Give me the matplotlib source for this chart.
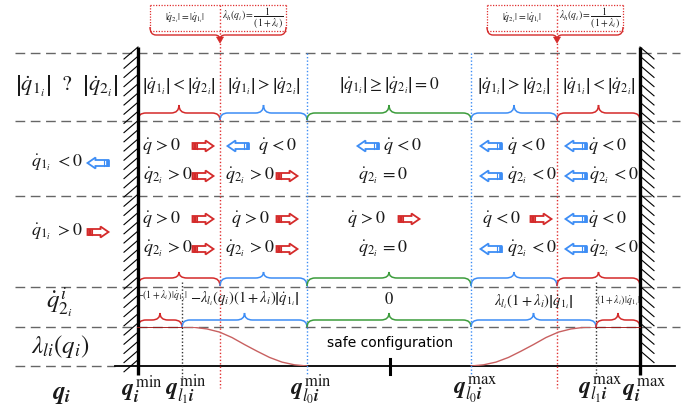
import matplotlib
matplotlib.use("Agg")
import matplotlib.pyplot as plt
from matplotlib.path import Path
from matplotlib.patches import PathPatch, Polygon, Rectangle

plt.rcParams['mathtext.fontset'] = 'stix'
plt.rcParams['font.family'] = ['Liberation Serif', 'DejaVu Serif']

W, H = 693, 408

# ---------------- data ----------------
q_marks = [138, 182, 307, 471, 596, 640]
q_labels = [r'$\boldsymbol{q}_{\boldsymbol{i}}^{\,\mathrm{min}}$',
            r'$\boldsymbol{q}_{\boldsymbol{l_1 i}}^{\,\mathrm{min}}$',
            r'$\boldsymbol{q}_{\boldsymbol{l_0 i}}^{\,\mathrm{min}}$',
            r'$\boldsymbol{q}_{\boldsymbol{l_0 i}}^{\,\mathrm{max}}$',
            r'$\boldsymbol{q}_{\boldsymbol{l_1 i}}^{\,\mathrm{max}}$',
            r'$\boldsymbol{q}_{\boldsymbol{i}}^{\,\mathrm{max}}$']
q_safe = 390
q_switch = [220, 557]
row_bounds = [53, 121, 196, 287, 327, 366]

row_labels = [r'$\left|\dot{q}_{1_i}\right|\ \ ?\ \ \left|\dot{q}_{2_i}\right|$',
              r'$\dot{q}_{1_i}\ <0$',
              r'$\dot{q}_{1_i}\ >0$',
              r'$\dot{q}_{2_i}^{\,i}$',
              r'$\lambda_{li}(q_i)$',
              r'$\boldsymbol{q}_{\boldsymbol{i}}$']

region_edges = [138, 220, 307, 471, 557, 640]
region_colors = ['#d42a2a', '#3d8df5', '#3c9c3c', '#3d8df5', '#d42a2a']
cond_texts = [r'$\left|\dot{q}_{1_i}\right|<\left|\dot{q}_{2_i}\right|$',
              r'$\left|\dot{q}_{1_i}\right|>\left|\dot{q}_{2_i}\right|$',
              r'$\left|\dot{q}_{1_i}\right|\geq\left|\dot{q}_{2_i}\right|=0$',
              r'$\left|\dot{q}_{1_i}\right|>\left|\dot{q}_{2_i}\right|$',
              r'$\left|\dot{q}_{1_i}\right|<\left|\dot{q}_{2_i}\right|$']

# motion table: (text, text_x, arrow_dir, arrow_x); arrow_dir +1 right, -1 left, 0 none
QP, QN = r'$\dot{q}\,>0$', r'$\dot{q}\,<0$'
Q2P, Q2N, Q2Z = r'$\dot{q}_{2_i}\,>0$', r'$\dot{q}_{2_i}\,<0$', r'$\dot{q}_{2_i}\,=0$'
row2_top = [(QP, 162, 1, 203), (QN, 278, -1, 238), (QN, 403, -1, 368), (QN, 527, -1, 491), (QN, 608, -1, 576)]
row2_bot = [(Q2P, 168, 1, 203), (Q2P, 250, 1, 287), (Q2Z, 383, 0, 0), (Q2N, 532, -1, 491), (Q2N, 614, -1, 576)]
row3_top = [(QP, 162, 1, 203), (QP, 251, 1, 287), (QP, 367, 1, 409), (QN, 502, 1, 541), (QN, 608, -1, 576)]
row3_bot = [(Q2P, 168, 1, 203), (Q2P, 250, 1, 287), (Q2Z, 383, 0, 0), (Q2N, 532, -1, 491), (Q2N, 614, -1, 576)]
left_arrows = [(-1, 98, 163), (1, 98, 232)]

q2_edges = [138, 182, 307, 471, 596, 640]
q2_texts = [r'$-(1+\lambda_i)\,|\dot{q}_{1_i}|$',
            r'$-\lambda_{l_i}(q_i)(1+\lambda_i)\left|\dot{q}_{1_i}\right|$',
            r'$0$',
            r'$\lambda_{l_i}(1+\lambda_i)\left|\dot{q}_{1_i}\right|$',
            r'$(1+\lambda_i)\,|\dot{q}_{1_i}|$']
q2_sizes = [7, 10.5, 12, 10.5, 7]

lam_q_left = [182, 194.5, 207, 219.5, 232, 244.5, 257, 269.5, 282, 294.5, 307]
lam_left = [1.0, 0.99, 0.95, 0.87, 0.73, 0.55, 0.38, 0.22, 0.10, 0.03, 0.0]
lam_q_right = [471, 483.5, 496, 508.5, 521, 533.5, 546, 558.5, 571, 583.5, 596]
lam_right = [0.0, 0.03, 0.10, 0.22, 0.38, 0.55, 0.73, 0.87, 0.95, 0.99, 1.0]

box_texts = [r'$|\dot{q}_{2_i}|=|\dot{q}_{1_i}|$', r'$\lambda_h(q_i)=\dfrac{1}{(1+\lambda_i)}$']

# ---------------- figure ----------------
fig = plt.figure(figsize=(W / 100, H / 100), dpi=100)
ax = fig.add_axes([0, 0, 1, 1])
ax.set_xlim(0, W)
ax.set_ylim(H, 0)
ax.axis('off')

GRAY = '#666666'
TXT = '#1a1a1a'
RED, BLUE, GREEN = '#d42a2a', '#3d8df5', '#3c9c3c'

# dashed row separators
for y in row_bounds[:-1]:
    ax.plot([15, 680], [y, y], color=GRAY, lw=1.0, ls=(0, (7, 4)), zorder=1)
ax.plot([15, 115], [row_bounds[-1]] * 2, color=GRAY, lw=1.0, ls=(0, (7, 4)), zorder=1)
ax.plot([115, 675], [row_bounds[-1]] * 2, color='black', lw=1.3, zorder=2)

# walls
for xw, side in [(q_marks[0], -1), (q_marks[-1], 1)]:
    ax.plot([xw, xw], [47, 375], color='black', lw=2.4, zorder=5, solid_capstyle='butt')
    if side < 0:
        yy = 47
        while yy + 12 <= 376:
            ax.plot([xw - 14, xw], [yy + 12, yy], color='black', lw=0.8, zorder=4)
            yy += 9.2
    else:
        yy = 47
        while yy + 12 <= 370:
            ax.plot([xw, xw + 14], [yy, yy + 12], color='black', lw=0.8, zorder=4)
            yy += 9.2

# vertical dotted lines
for xs in q_switch:
    ax.plot([xs, xs], [5, 388], color='#e03030', lw=1.0, ls=(0, (1, 1.5)), zorder=3)
for xb in [q_marks[2], q_marks[3]]:
    ax.plot([xb, xb], [53, 376], color=BLUE, lw=1.0, ls=(0, (1, 1.5)), zorder=3)
for xk in [q_marks[1], q_marks[4]]:
    ax.plot([xk, xk], [282, 377], color='#333333', lw=1.0, ls=(0, (1, 1.5)), zorder=3)

# safe configuration tick
ax.plot([q_safe, q_safe], [359, 374], color='black', lw=2.2, zorder=5)
ax.text(q_safe, 343, 'safe configuration', fontsize=10, family='DejaVu Sans',
        ha='center', va='center')


def brace(x0, x1, y_line, y_end, y_tip, color, lw=1.1):
    xm = (x0 + x1) / 2
    r = min(8, (x1 - x0) / 5)
    verts = [(x0, y_end), (x0, y_line), (x0 + r, y_line),
             (xm - r, y_line), (xm, y_line), (xm, y_tip),
             (xm, y_line), (xm + r, y_line),
             (x1 - r, y_line), (x1, y_line), (x1, y_end)]
    codes = [Path.MOVETO, Path.CURVE3, Path.CURVE3,
             Path.LINETO, Path.CURVE3, Path.CURVE3,
             Path.CURVE3, Path.CURVE3,
             Path.LINETO, Path.CURVE3, Path.CURVE3]
    ax.add_patch(PathPatch(Path(verts, codes), fill=False, edgecolor=color, lw=lw, zorder=4))


# braces row 1 and row 3
for i in range(5):
    x0, x1 = region_edges[i], region_edges[i + 1]
    brace(x0, x1, 113, 120, 105, region_colors[i])
    brace(x0, x1, 278, 286, 272, region_colors[i])
# braces row 4
for i in range(5):
    brace(q2_edges[i], q2_edges[i + 1], 320, 327, 313, region_colors[i])

# row labels
label_pos = [(67, 86, 16), (57, 163, 13), (57, 232, 13), (60, 303, 18), (60, 347, 18), (62, 395, 18)]
for lab, (x, y, fs) in zip(row_labels, label_pos):
    ax.text(x, y, lab, fontsize=fs, ha='center', va='center', color=TXT)

# condition texts
for i in range(5):
    xc = (region_edges[i] + region_edges[i + 1]) / 2
    ax.text(xc, 86, cond_texts[i], fontsize=12.5, ha='center', va='center', color=TXT)


def block_arrow(cx, cy, d, color):
    L, bh, hh, hl = 21, 3.0, 5.5, 8
    tail = cx - d * L / 2
    hb = cx + d * (L / 2 - hl)
    tip = cx + d * L / 2
    pts = [(tail, cy - bh), (hb, cy - bh), (hb, cy - hh), (tip, cy),
           (hb, cy + hh), (hb, cy + bh), (tail, cy + bh)]
    ax.add_patch(Polygon(pts, closed=True, fill=True, facecolor='white',
                         edgecolor=color, lw=1.3, zorder=6))
    x_a = tail if d > 0 else tail - 3
    ax.add_patch(Rectangle((x_a, cy - bh), 3, 2 * bh, facecolor=color,
                           edgecolor=color, lw=0.5, zorder=7))
    ax.plot([tail + d * 4.5] * 2, [cy - bh, cy + bh], color=color, lw=0.8, zorder=7)


for row, y in [(row2_top, 146), (row2_bot, 176), (row3_top, 219), (row3_bot, 249)]:
    for txt, tx, d, axx in row:
        ax.text(tx, y, txt, fontsize=13, ha='center', va='center', color=TXT)
        if d != 0:
            block_arrow(axx, y, d, RED if d > 0 else BLUE)
for d, xx, yy in left_arrows:
    block_arrow(xx, yy, d, RED if d > 0 else BLUE)

# dq2 expressions
q2_y = [296, 299, 300, 302, 301]
q2_dx = [2, 0, 0, 0, 0]
for i in range(5):
    xc = (q2_edges[i] + q2_edges[i + 1]) / 2 + q2_dx[i]
    ax.text(xc, q2_y[i], q2_texts[i], fontsize=q2_sizes[i], ha='center', va='center', color=TXT)

# q labels
for xq, lab in zip(q_marks, q_labels):
    ax.text(xq + 4, 390, lab, fontsize=17, ha='center', va='center', color=TXT)

# lambda row: its own axes
lam_ax = fig.add_axes([0, 1 - row_bounds[5] / H, 1, (row_bounds[5] - row_bounds[4]) / H])
lam_ax.set_xlim(0, W)
lam_ax.set_ylim(0, 1)
lam_ax.axis('off')
lam_ax.patch.set_alpha(0)
lam_ax.plot(lam_q_left, lam_left, color='#c86060', lw=1.0)
lam_ax.plot(lam_q_right, lam_right, color='#c86060', lw=1.0)
lam_ax.plot([q_marks[0], q_marks[1]], [1, 1], color='#a01818', lw=1.3)
lam_ax.plot([q_marks[4], q_marks[5]], [1, 1], color='#a01818', lw=1.3)

# top annotation boxes
for xs in q_switch:
    x0, x1 = xs - 70, xs + 66
    ax.plot([x0, x1], [5, 5], color='#e03030', lw=0.9, ls=(0, (1, 1.2)), zorder=3)
    ax.plot([x0, x1], [31, 31], color='#e03030', lw=0.9, ls=(0, (1, 1.2)), zorder=3)
    ax.plot([x0, x0], [5, 28], color='#e03030', lw=0.9, ls=(0, (1, 1.2)), zorder=3)
    ax.plot([x1, x1], [5, 28], color='#e03030', lw=0.9, ls=(0, (1, 1.2)), zorder=3)
    verts = [(x0, 27), (x0, 35), (x0 + 6, 35), (xs - 5, 35), (xs, 35), (xs, 40),
             (xs, 35), (xs + 5, 35), (x1 - 6, 35), (x1, 35), (x1, 27)]
    codes = [Path.MOVETO, Path.CURVE3, Path.CURVE3, Path.LINETO, Path.CURVE3, Path.CURVE3,
             Path.CURVE3, Path.CURVE3, Path.LINETO, Path.CURVE3, Path.CURVE3]
    ax.add_patch(PathPatch(Path(verts, codes), fill=False, edgecolor='#d42a2a', lw=1.0, zorder=4))
    ax.add_patch(Polygon([(xs - 3.5, 37), (xs + 3.5, 37), (xs, 43)], closed=True,
                         facecolor='#d42a2a', edgecolor='#d42a2a', lw=0.5, zorder=5))
    ax.text((x0 + xs) / 2, 18, box_texts[0], fontsize=7, ha='center', va='center', color=TXT)
    ax.text((xs + x1) / 2, 18, box_texts[1], fontsize=7, ha='center', va='center', color=TXT)

fig.savefig('out.png', dpi=100)
